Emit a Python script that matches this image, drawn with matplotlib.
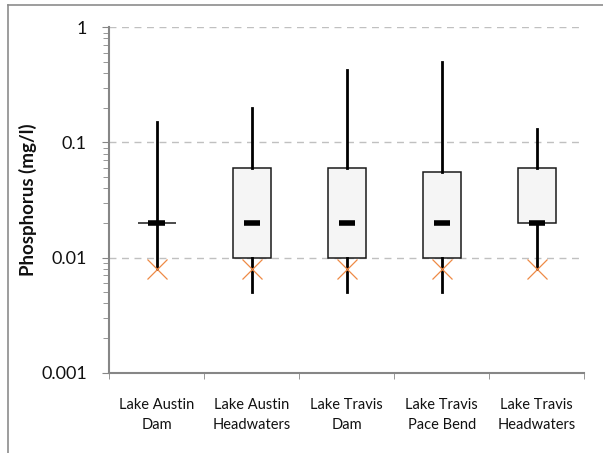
import matplotlib
matplotlib.use("Agg")
import matplotlib.pyplot as plt
from matplotlib.ticker import FixedLocator, NullFormatter, LogLocator

plt.rcParams['font.family'] = ['Lato', 'DejaVu Sans']

# data (mg/l)
sites = ['Lake Austin\nDam', 'Lake Austin\nHeadwaters', 'Lake Travis\nDam',
         'Lake Travis\nPace Bend', 'Lake Travis\nHeadwaters']
mins = [0.008, 0.005, 0.005, 0.005, 0.008]
q1 = [0.02, 0.01, 0.01, 0.01, 0.02]
medians = [0.02, 0.02, 0.02, 0.02, 0.02]
q3 = [0.02, 0.06, 0.06, 0.055, 0.06]
maxs = [0.15, 0.2, 0.43, 0.5, 0.13]
markers = [0.008, 0.008, 0.008, 0.008, 0.008]

pos = list(range(len(sites)))

fig = plt.figure(figsize=(6.03, 4.53), dpi=100)
ax = fig.add_axes([0.1808, 0.1773, 0.7882, 0.7624])

# outer chart border (only top and left visible)
fig.add_artist(plt.Line2D([8 / 603, 8 / 603], [0, 1 - 5 / 453], transform=fig.transFigure,
                          color='#8c8c8c', lw=1.2))
fig.add_artist(plt.Line2D([8 / 603, 1], [1 - 5 / 453, 1 - 5 / 453], transform=fig.transFigure,
                          color='#8c8c8c', lw=1.2))

ax.set_yscale('log')
ax.set_ylim(0.001, 1)
ax.set_xlim(-0.5, len(sites) - 0.5)

for y in [0.01, 0.1, 1]:
    ax.axhline(y, color='#c0c0c0', lw=1, ls=(0, (5, 4)), zorder=1)

stats = []
for i in pos:
    stats.append(dict(whislo=mins[i], q1=q1[i], med=medians[i], q3=q3[i], whishi=maxs[i]))

ax.bxp(stats, positions=pos, widths=0.4, patch_artist=True, showcaps=False,
       showfliers=False,
       boxprops=dict(facecolor='#f5f5f5', edgecolor='#1a1a1a', lw=1.1),
       whiskerprops=dict(color='black', lw=2),
       medianprops=dict(linestyle='none'),
       zorder=3)

ax.hlines(medians, [p - 0.085 for p in pos], [p + 0.085 for p in pos],
          color='black', lw=4, zorder=4)

ax.plot(pos, markers, ls='none', marker='x', ms=15, mew=0.9, color='#EE8A45', zorder=5)

for s in ['top', 'right']:
    ax.spines[s].set_visible(False)
for s in ['left', 'bottom']:
    ax.spines[s].set_color('#868686')
    ax.spines[s].set_linewidth(1.5)

ax.yaxis.set_major_locator(FixedLocator([0.001, 0.01, 0.1, 1]))
ax.set_yticklabels(['0.001', '0.01', '0.1', '1'])
ax.yaxis.set_minor_locator(LogLocator(base=10, subs=range(2, 10)))
ax.yaxis.set_minor_formatter(NullFormatter())
ax.tick_params(axis='y', which='major', length=5, color='#868686', labelsize=13, pad=11,
               labelcolor='#111111')
ax.tick_params(axis='y', which='minor', length=4, color='#868686')

ax.set_xticks(pos)
ax.set_xticklabels(sites, linespacing=1.55)
ax.set_xticks([p - 0.5 for p in pos] + [len(sites) - 0.5], minor=True)
ax.tick_params(axis='x', which='major', length=0, labelsize=10.5, pad=18, labelcolor='#111111')
ax.tick_params(axis='x', which='minor', length=4, color='#868686')

ax.set_ylabel('Phosphorus (mg/l)', fontsize=13.5, fontweight='bold', labelpad=3, color='#111111')

fig.savefig('out.png', dpi=100)
